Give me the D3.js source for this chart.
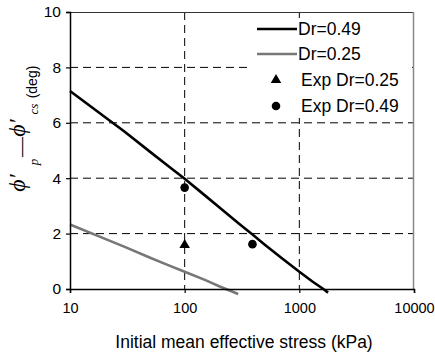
<!DOCTYPE html>
<html>
<head>
<meta charset="utf-8">
<script src="https://cdn.jsdelivr.net/npm/d3@7"></script>
<style>
  html, body { margin: 0; padding: 0; background: #fff; }
  svg { display: block; font-family: "Liberation Sans", Arial, sans-serif; }
</style>
</head>
<body>
<svg id="chart" width="435" height="358"></svg>
<script>
// Simulated peak minus critical-state friction angle vs. initial mean effective stress
const stressDense = [10, 20, 30, 50, 70, 100, 150, 200, 300, 400, 500, 700, 1000, 1300, 1620, 1780];
const phiDense    = [7.15, 6.22, 5.68, 4.95, 4.48, 3.98, 3.38, 2.95, 2.35, 1.93, 1.6, 1.12, 0.62, 0.27, 0.0, -0.13];

const stressLoose = [10, 20, 30, 50, 70, 100, 150, 200, 229, 293];
const phiLoose    = [2.33, 1.82, 1.52, 1.13, 0.88, 0.62, 0.33, 0.1, 0.0, -0.18];

// Experimental points
const expLooseStress = [100];
const expLoosePhi    = [1.59];
const expDenseStress = [100, 390];
const expDensePhi    = [3.66, 1.62];

const xTicks = [10, 100, 1000, 10000];
const yTicks = [0, 2, 4, 6, 8, 10];
const xGrid = [100, 1000];
const yGrid = [2, 4, 6, 8];

const legendItems = [
  { label: "Dr=0.49", kind: "line", color: "#000" },
  { label: "Dr=0.25", kind: "line", color: "#777" },
  { label: "Exp Dr=0.25", kind: "triangle", color: "#000" },
  { label: "Exp Dr=0.49", kind: "circle", color: "#000" }
];

const svg = d3.select("#chart");
const pLeft = 70, pRight = 414, pTop = 12, pBottom = 289;

const x = d3.scaleLog().domain([10, 10000]).range([pLeft, pRight]);
const y = d3.scaleLinear().domain([0, 10]).range([pBottom, pTop]);

// Grid
const grid = svg.append("g");
grid.selectAll("line.gx").data(xGrid).join("line")
  .attr("x1", d => x(d)).attr("x2", d => x(d))
  .attr("y1", pTop).attr("y2", pBottom)
  .attr("stroke", "#000").attr("stroke-width", 1).attr("stroke-dasharray", "8,5");
grid.selectAll("line.gy").data(yGrid).join("line")
  .attr("x1", pLeft).attr("x2", pRight)
  .attr("y1", d => y(d)).attr("y2", d => y(d))
  .attr("stroke", "#000").attr("stroke-width", 1).attr("stroke-dasharray", "8,5");

// Frame top/right
svg.append("line").attr("x1", pLeft).attr("x2", pRight).attr("y1", pTop + 0.5).attr("y2", pTop + 0.5)
  .attr("stroke", "#333").attr("stroke-width", 1.2);
svg.append("line").attr("x1", pRight - 0.5).attr("x2", pRight - 0.5).attr("y1", pTop).attr("y2", pBottom)
  .attr("stroke", "#888").attr("stroke-width", 1.5);

// Legend background
svg.append("rect").attr("x", 251).attr("y", 18).attr("width", 161).attr("height", 100).attr("fill", "#fff");

// Curves
const line = d3.line().x(d => x(d[0])).y(d => y(d[1]));
svg.append("path").datum(d3.zip(stressLoose, phiLoose))
  .attr("d", line).attr("fill", "none").attr("stroke", "#777").attr("stroke-width", 2.6);
svg.append("path").datum(d3.zip(stressDense, phiDense))
  .attr("d", line).attr("fill", "none").attr("stroke", "#000").attr("stroke-width", 2.6);

// Markers
const tri = d3.symbol().type(d3.symbolTriangle).size(48);
const circ = d3.symbol().type(d3.symbolCircle).size(58);
svg.selectAll("path.tri").data(d3.zip(expLooseStress, expLoosePhi)).join("path")
  .attr("d", tri).attr("transform", d => `translate(${x(d[0])},${y(d[1])})`).attr("fill", "#000");
svg.selectAll("path.circ").data(d3.zip(expDenseStress, expDensePhi)).join("path")
  .attr("d", circ).attr("transform", d => `translate(${x(d[0])},${y(d[1])})`).attr("fill", "#000");

// Axes
const yAxis = d3.axisLeft(y).tickValues(yTicks).tickSize(4).tickPadding(5).tickFormat(d3.format("d"));
const gy = svg.append("g").attr("transform", `translate(${pLeft},0)`).call(yAxis);
gy.select(".domain").attr("stroke", "#000").attr("stroke-width", 1.5);
gy.selectAll(".tick line").attr("stroke", "#000").attr("stroke-width", 1.2);
gy.selectAll(".tick text").attr("font-size", 15.5).attr("fill", "#000")
  .attr("font-family", "Liberation Sans, Arial, sans-serif");

const xAxis = d3.axisBottom(x).tickValues(xTicks).tickSize(4).tickPadding(10).tickFormat(d3.format("d"));
const gx = svg.append("g").attr("transform", `translate(0,${pBottom})`).call(xAxis);
gx.select(".domain").attr("stroke", "#000").attr("stroke-width", 1.5);
gx.selectAll(".tick line").attr("stroke", "#000").attr("stroke-width", 1.2);
gx.selectAll(".tick text").attr("font-size", 14.5).attr("fill", "#000")
  .attr("font-family", "Liberation Sans, Arial, sans-serif");

// Legend
const lg = svg.append("g");
const rowY = [29, 54, 80, 106];
legendItems.forEach((it, i) => {
  const cy = rowY[i];
  if (it.kind === "line") {
    lg.append("line").attr("x1", 257).attr("x2", 297).attr("y1", cy).attr("y2", cy)
      .attr("stroke", it.color).attr("stroke-width", 2.6);
    lg.append("text").attr("x", 298).attr("y", cy).attr("dy", "0.35em")
      .attr("font-size", 17.5).text(it.label);
  } else {
    const sym = it.kind === "triangle" ? tri : circ;
    lg.append("path").attr("d", sym).attr("transform", `translate(276,${cy})`).attr("fill", it.color);
    lg.append("text").attr("x", 301).attr("y", cy).attr("dy", "0.35em")
      .attr("font-size", 17.5).text(it.label);
  }
});

// X axis title
svg.append("text").attr("x", 244).attr("y", 342).attr("dy", "0.35em")
  .attr("text-anchor", "middle").attr("font-size", 17.5)
  .text("Initial mean effective stress (kPa)");

// Y axis title: pieces placed along the rotated baseline
const serif = "Liberation Serif, Times New Roman, serif";
const yTitleParts = [
  { t: "ϕ′", cx: 17, cy: 183, size: 24, italic: true, font: serif },
  { t: "p", cx: 33, cy: 162, size: 13, italic: true, font: serif },
  { t: "—", cx: 21, cy: 147, size: 20, italic: false, font: serif },
  { t: "ϕ′", cx: 17, cy: 128, size: 24, italic: true, font: serif },
  { t: "cs", cx: 33, cy: 109, size: 13, italic: true, font: serif },
  { t: "(deg)", cx: 32, cy: 82, size: 14, italic: false, font: "Liberation Sans, Arial, sans-serif" }
];
yTitleParts.forEach(p => {
  svg.append("text")
    .attr("transform", `translate(${p.cx},${p.cy}) rotate(-90)`)
    .attr("text-anchor", "middle").attr("dominant-baseline", "central")
    .attr("font-family", p.font).attr("font-size", p.size)
    .attr("font-style", p.italic ? "italic" : "normal")
    .text(p.t);
});
</script>
</body>
</html>
